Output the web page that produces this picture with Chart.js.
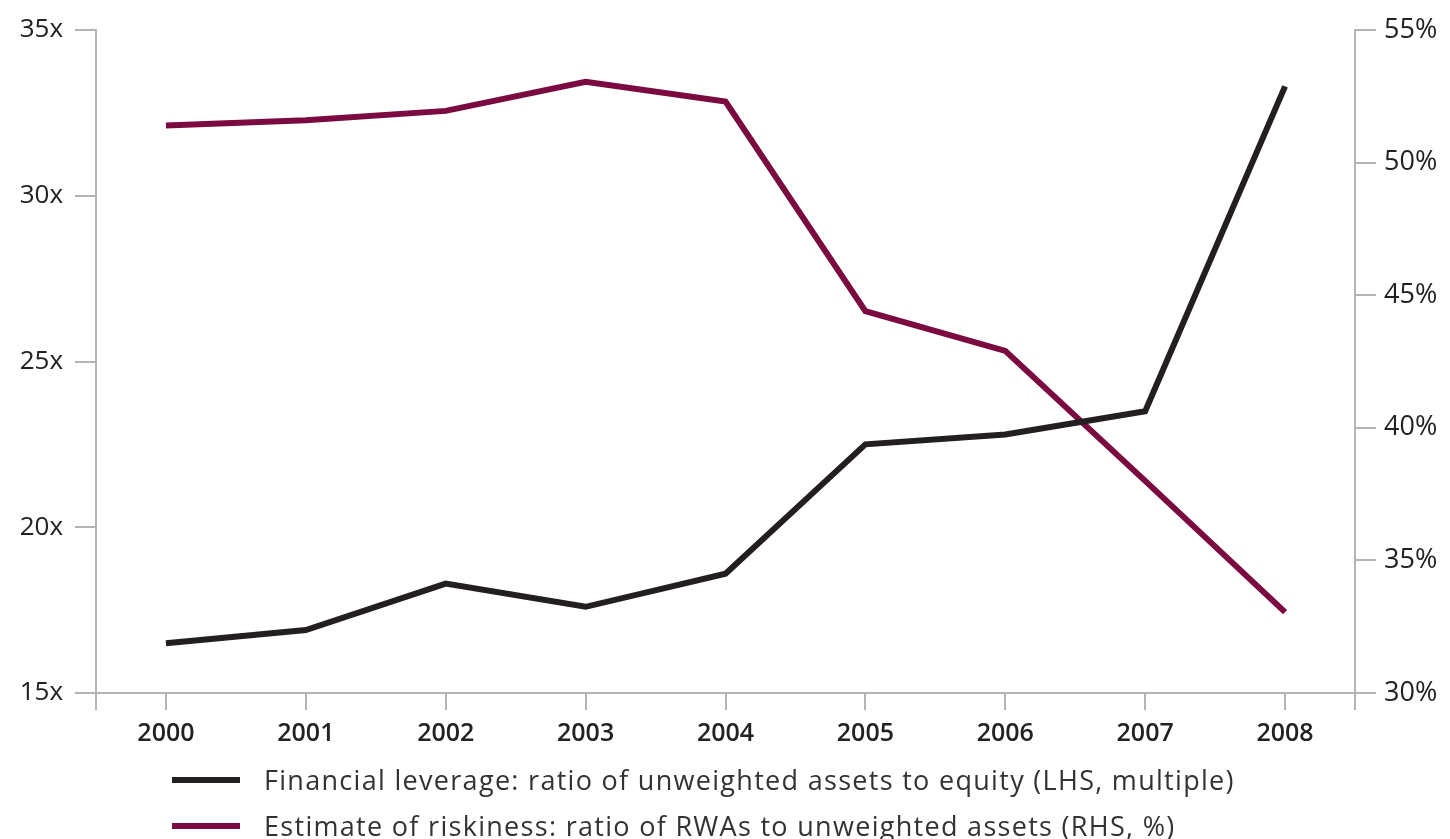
<!DOCTYPE html>
<html>
<head>
<meta charset="utf-8">
<script src="https://cdn.jsdelivr.net/npm/chart.js@4"></script>
<style>
  body { margin: 0; background: #fff; }
  #wrap { position: relative; width: 1450px; height: 760px; }
  #legend { position: absolute; left: 172px; top: 757px; font-family: "Open Sans", sans-serif; font-size: 27px; letter-spacing: 1.3px; color: #333; }
  #legend div { height: 46px; line-height: 46px; white-space: nowrap; }
  #legend span.sw { display: inline-block; width: 68px; height: 6px; vertical-align: middle; margin-right: 24px; position: relative; top: -3px; }
</style>
</head>
<body>
<div id="wrap"><canvas id="chart"></canvas></div>
<div id="legend">
  <div><span class="sw" style="background:#231f20"></span>Financial leverage: ratio of unweighted assets to equity (LHS, multiple)</div>
  <div><span class="sw" style="background:#7a0a40"></span>Estimate of riskiness: ratio of RWAs to unweighted assets (RHS, %)</div>
</div>
<script>
var years = ['2000','2001','2002','2003','2004','2005','2006','2007','2008'];
var leverage = [16.5, 16.9, 18.3, 17.6, 18.6, 22.5, 22.8, 23.5, 33.3];
var riskiness = [51.4, 51.6, 51.95, 53.05, 52.3, 44.4, 42.9, 38.0, 33.05];

var axisGrey = '#b4b4b4';

// axis lines carried below the x axis at both ends
var axisEnds = {
  id: 'axisEnds',
  afterDraw: function(c){
    var ctx = c.ctx, a = c.chartArea;
    ctx.save();
    ctx.strokeStyle = axisGrey;
    ctx.lineWidth = 2;
    ctx.beginPath();
    ctx.moveTo(a.left, a.bottom); ctx.lineTo(a.left, a.bottom + 17);
    ctx.moveTo(a.right, a.bottom); ctx.lineTo(a.right, a.bottom + 17);
    ctx.stroke();
    ctx.restore();
  }
};

var ctx = document.getElementById('chart').getContext('2d');
var chart = new Chart(ctx, {
  type: 'line',
  data: {
    labels: years,
    datasets: [{
      label: 'Financial leverage',
      data: leverage,
      borderColor: '#231f20',
      borderWidth: 6,
      tension: 0,
      pointRadius: 0,
      yAxisID: 'y1'
    }, {
      label: 'Estimate of riskiness',
      data: riskiness,
      borderColor: '#7a0a40',
      borderWidth: 6,
      tension: 0,
      pointRadius: 0,
      yAxisID: 'y2'
    }]
  },
  plugins: [axisEnds],
  options: {
    responsive: true,
    maintainAspectRatio: false,
    animation: false,
    layout: { padding: { top: 30, left: 0, right: 0, bottom: 0 } },
    plugins: { legend: { display: false }, tooltip: { enabled: false } },
    scales: {
      x: {
        offset: true,
        grid: { offset: false, drawOnChartArea: false, color: axisGrey, lineWidth: 2, tickLength: 17 },
        border: { color: axisGrey, width: 2 },
        ticks: { color: '#222', font: { family: 'Open Sans', size: 25, weight: '600' }, padding: 9, maxRotation: 0 },
        afterFit: function(s){ s.height = 67; }
      },
      y1: {
        position: 'left',
        min: 15, max: 35,
        grid: { drawOnChartArea: false, color: axisGrey, lineWidth: 2, tickLength: 21 },
        border: { color: axisGrey, width: 2 },
        ticks: { stepSize: 5, color: '#222', font: { family: 'Open Sans', size: 26 }, padding: 12, callback: function(v){ return v + 'x'; } },
        afterFit: function(s){ s.width = 96; }
      },
      y2: {
        position: 'right',
        min: 30, max: 55,
        grid: { drawOnChartArea: false, color: axisGrey, lineWidth: 2, tickLength: 21 },
        border: { color: axisGrey, width: 2 },
        ticks: { stepSize: 5, color: '#222', font: { family: 'Open Sans', size: 27 }, padding: 8, callback: function(v){ return v + '%'; } },
        afterFit: function(s){ s.width = 95; }
      }
    }
  }
});
</script>
</body>
</html>
